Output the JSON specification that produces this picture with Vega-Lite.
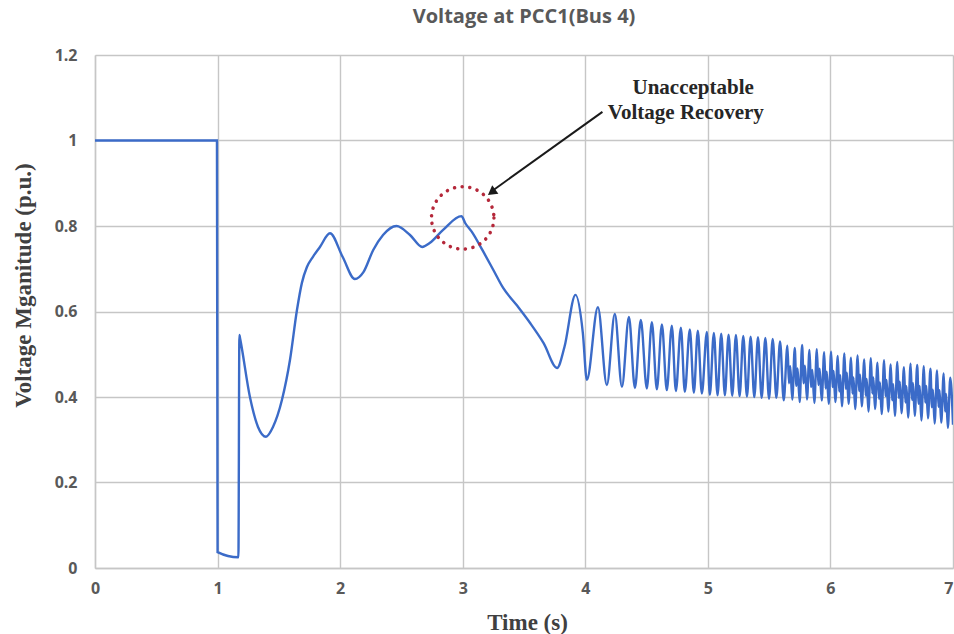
{
  "$schema": "https://vega.github.io/schema/vega-lite/v6.json",
  "width": 858,
  "height": 513,
  "autosize": "none",
  "padding": {"left": 95, "top": 55, "right": 1, "bottom": 66},
  "background": "white",
  "title": {
    "text": "Voltage at PCC1(Bus 4)",
    "anchor": "middle",
    "font": "Open Sans",
    "fontSize": 20,
    "fontWeight": "bold",
    "color": "#595959",
    "offset": 20
  },
  "config": {
    "view": {"stroke": null},
    "axis": {
      "gridColor": "#c6c6c6",
      "gridWidth": 1.4,
      "domainColor": "#c6c6c6",
      "domainWidth": 1.4,
      "ticks": false,
      "labelFont": "Open Sans",
      "labelFontSize": 16,
      "labelFontWeight": "bold",
      "labelColor": "#595959",
      "labelFlush": false,
      "titleFont": "Liberation Serif",
      "titleFontSize": 23,
      "titleFontWeight": "bold",
      "titleColor": "#404040"
    }
  },
  "layer": [
    {
      "data": {
        "values": [
          {"t": 0, "v": 1.0}, {"t": 0.995, "v": 1.0}, {"t": 1.0, "v": 0.037}, {"t": 1.17, "v": 0.025},
          {"t": 1.178, "v": 0.545}, {"t": 1.185, "v": 0.535}, {"t": 1.264, "v": 0.40}, {"t": 1.33, "v": 0.33},
          {"t": 1.395, "v": 0.307}, {"t": 1.452, "v": 0.33}, {"t": 1.525, "v": 0.393}, {"t": 1.591, "v": 0.487},
          {"t": 1.648, "v": 0.604}, {"t": 1.688, "v": 0.667}, {"t": 1.729, "v": 0.704}, {"t": 1.778, "v": 0.728},
          {"t": 1.835, "v": 0.751}, {"t": 1.917, "v": 0.783}, {"t": 2.02, "v": 0.728}, {"t": 2.12, "v": 0.676},
          {"t": 2.19, "v": 0.692}, {"t": 2.27, "v": 0.744}, {"t": 2.35, "v": 0.779}, {"t": 2.46, "v": 0.80},
          {"t": 2.57, "v": 0.779}, {"t": 2.67, "v": 0.751}, {"t": 2.73, "v": 0.76}, {"t": 2.84, "v": 0.791},
          {"t": 2.99, "v": 0.823}, {"t": 3.02, "v": 0.807}, {"t": 3.08, "v": 0.784}, {"t": 3.16, "v": 0.744},
          {"t": 3.25, "v": 0.697}, {"t": 3.33, "v": 0.655}, {"t": 3.44, "v": 0.615}, {"t": 3.55, "v": 0.573},
          {"t": 3.66, "v": 0.526}, {"t": 3.77, "v": 0.468}, {"t": 3.83, "v": 0.517}, {"t": 3.92, "v": 0.639},
          {"t": 3.98, "v": 0.55}, {"t": 4.013, "v": 0.44}, {"t": 4.103, "v": 0.61}, {"t": 4.176, "v": 0.428},
          {"t": 4.241, "v": 0.594}, {"t": 4.299, "v": 0.424}, {"t": 4.356, "v": 0.587}, {"t": 4.405, "v": 0.421},
          {"t": 4.453, "v": 0.58}, {"t": 4.502, "v": 0.42}, {"t": 4.543, "v": 0.575}, {"t": 4.584, "v": 0.418},
          {"t": 4.625, "v": 0.57}, {"t": 4.665, "v": 0.416}, {"t": 4.706, "v": 0.567}, {"t": 4.739, "v": 0.414},
          {"t": 4.78, "v": 0.562}, {"t": 4.812, "v": 0.412}, {"t": 4.853, "v": 0.558}, {"t": 4.886, "v": 0.41},
          {"t": 4.918, "v": 0.555}, {"t": 4.951, "v": 0.408}, {"t": 4.992, "v": 0.552}, {"t": 5.016, "v": 0.405},
          {"t": 5.049, "v": 0.55}, {"t": 5.079, "v": 0.404}, {"t": 5.109, "v": 0.548}, {"t": 5.139, "v": 0.404},
          {"t": 5.169, "v": 0.546}, {"t": 5.199, "v": 0.403}, {"t": 5.229, "v": 0.545}, {"t": 5.259, "v": 0.402},
          {"t": 5.289, "v": 0.543}, {"t": 5.319, "v": 0.401}, {"t": 5.349, "v": 0.541}, {"t": 5.379, "v": 0.40},
          {"t": 5.409, "v": 0.54}, {"t": 5.439, "v": 0.398}, {"t": 5.469, "v": 0.538}, {"t": 5.499, "v": 0.396},
          {"t": 5.529, "v": 0.536}, {"t": 5.559, "v": 0.398}, {"t": 5.589, "v": 0.53}, {"t": 5.619, "v": 0.392},
          {"t": 5.649, "v": 0.52}, {"t": 5.662, "v": 0.432}, {"t": 5.672, "v": 0.472}, {"t": 5.689, "v": 0.394},
          {"t": 5.709, "v": 0.515}, {"t": 5.722, "v": 0.426}, {"t": 5.732, "v": 0.467}, {"t": 5.749, "v": 0.388},
          {"t": 5.769, "v": 0.522}, {"t": 5.782, "v": 0.432}, {"t": 5.792, "v": 0.473}, {"t": 5.809, "v": 0.394},
          {"t": 5.829, "v": 0.51}, {"t": 5.842, "v": 0.423}, {"t": 5.852, "v": 0.463}, {"t": 5.869, "v": 0.386},
          {"t": 5.889, "v": 0.512}, {"t": 5.902, "v": 0.428}, {"t": 5.912, "v": 0.466}, {"t": 5.929, "v": 0.392},
          {"t": 5.949, "v": 0.505}, {"t": 5.961, "v": 0.42}, {"t": 5.97, "v": 0.459}, {"t": 5.986, "v": 0.384},
          {"t": 6.006, "v": 0.506}, {"t": 6.018, "v": 0.423}, {"t": 6.026, "v": 0.461}, {"t": 6.04, "v": 0.388},
          {"t": 6.06, "v": 0.496}, {"t": 6.072, "v": 0.413}, {"t": 6.08, "v": 0.451}, {"t": 6.094, "v": 0.378},
          {"t": 6.114, "v": 0.502}, {"t": 6.126, "v": 0.419}, {"t": 6.134, "v": 0.457}, {"t": 6.148, "v": 0.384},
          {"t": 6.168, "v": 0.492}, {"t": 6.18, "v": 0.408}, {"t": 6.188, "v": 0.446}, {"t": 6.202, "v": 0.372},
          {"t": 6.222, "v": 0.497}, {"t": 6.234, "v": 0.414}, {"t": 6.242, "v": 0.452}, {"t": 6.256, "v": 0.378},
          {"t": 6.276, "v": 0.488}, {"t": 6.288, "v": 0.403}, {"t": 6.296, "v": 0.442}, {"t": 6.31, "v": 0.366},
          {"t": 6.33, "v": 0.491}, {"t": 6.342, "v": 0.408}, {"t": 6.35, "v": 0.446}, {"t": 6.364, "v": 0.372},
          {"t": 6.384, "v": 0.48}, {"t": 6.396, "v": 0.396}, {"t": 6.404, "v": 0.434}, {"t": 6.418, "v": 0.36},
          {"t": 6.438, "v": 0.486}, {"t": 6.45, "v": 0.402}, {"t": 6.458, "v": 0.44}, {"t": 6.472, "v": 0.366},
          {"t": 6.492, "v": 0.476}, {"t": 6.504, "v": 0.392}, {"t": 6.512, "v": 0.43}, {"t": 6.526, "v": 0.356},
          {"t": 6.546, "v": 0.482}, {"t": 6.558, "v": 0.398}, {"t": 6.566, "v": 0.436}, {"t": 6.58, "v": 0.362},
          {"t": 6.6, "v": 0.47}, {"t": 6.612, "v": 0.387}, {"t": 6.62, "v": 0.425}, {"t": 6.634, "v": 0.352},
          {"t": 6.654, "v": 0.478}, {"t": 6.666, "v": 0.393}, {"t": 6.674, "v": 0.432}, {"t": 6.688, "v": 0.356},
          {"t": 6.708, "v": 0.475}, {"t": 6.72, "v": 0.384}, {"t": 6.728, "v": 0.426}, {"t": 6.742, "v": 0.345},
          {"t": 6.762, "v": 0.472}, {"t": 6.774, "v": 0.387}, {"t": 6.782, "v": 0.426}, {"t": 6.796, "v": 0.35},
          {"t": 6.816, "v": 0.466}, {"t": 6.828, "v": 0.376}, {"t": 6.836, "v": 0.417}, {"t": 6.85, "v": 0.338},
          {"t": 6.87, "v": 0.462}, {"t": 6.882, "v": 0.377}, {"t": 6.89, "v": 0.416}, {"t": 6.904, "v": 0.34},
          {"t": 6.924, "v": 0.455}, {"t": 6.936, "v": 0.366}, {"t": 6.944, "v": 0.407}, {"t": 6.958, "v": 0.328},
          {"t": 6.978, "v": 0.445}, {"t": 7.0, "v": 0.335}
        ]
      },
      "mark": {"type": "line", "interpolate": "monotone", "color": "#3B6BC8", "strokeWidth": 2.4, "clip": true},
      "encoding": {
        "x": {
          "field": "t", "type": "quantitative",
          "scale": {"domain": [0, 7], "nice": false},
          "axis": {
            "values": [0, 1, 2, 3, 4, 5, 6, 7],
            "format": "~g",
            "title": "Time (s)",
            "labelPadding": 12,
            "labelAlign": {"condition": {"test": "datum.value == 7", "value": "right"}, "value": "center"},
            "titleX": 432,
            "titleY": 54,
            "titleBaseline": "middle",
            "titleAlign": "center"
          }
        },
        "y": {
          "field": "v", "type": "quantitative",
          "scale": {"domain": [0, 1.2], "nice": false, "zero": false},
          "axis": {
            "values": [0, 0.2, 0.4, 0.6, 0.8, 1, 1.2],
            "format": "~g",
            "title": "Voltage Mganitude (p.u.)",
            "labelPadding": 18,
            "titleX": -72,
            "titleY": 230,
            "titleAngle": -90,
            "titleBaseline": "middle",
            "titleAlign": "center"
          }
        }
      }
    },
    {
      "data": {"values": [{"t": 3.0, "v": 0.819}]},
      "mark": {"type": "point", "shape": "circle", "size": 3900, "filled": false, "stroke": "#B5283A", "strokeWidth": 3.5, "strokeDash": [0.1, 7.6], "strokeCap": "round", "opacity": 1},
      "encoding": {"x": {"field": "t", "type": "quantitative"}, "y": {"field": "v", "type": "quantitative"}}
    },
    {
      "data": {"values": [{"t": 4.14, "v": 1.067, "t2": 3.24, "v2": 0.882}]},
      "mark": {"type": "rule", "color": "#1a1a1a", "strokeWidth": 2},
      "encoding": {
        "x": {"field": "t", "type": "quantitative"},
        "y": {"field": "v", "type": "quantitative"},
        "x2": {"field": "t2"},
        "y2": {"field": "v2"}
      }
    },
    {
      "data": {"values": [{"t": 3.236, "v": 0.879}]},
      "mark": {"type": "point", "shape": "triangle-up", "size": 110, "filled": true, "color": "#1a1a1a", "opacity": 1, "angle": 234},
      "encoding": {"x": {"field": "t", "type": "quantitative"}, "y": {"field": "v", "type": "quantitative"}}
    },
    {
      "data": {"values": [{"t": 4.88, "v": 1.123, "label": "Unacceptable"}, {"t": 4.82, "v": 1.064, "label": "Voltage Recovery"}]},
      "mark": {"type": "text", "font": "Liberation Serif", "fontSize": 21, "fontWeight": "bold", "color": "#262626", "align": "center", "baseline": "middle"},
      "encoding": {
        "x": {"field": "t", "type": "quantitative"},
        "y": {"field": "v", "type": "quantitative"},
        "text": {"field": "label"}
      }
    }
  ]
}
